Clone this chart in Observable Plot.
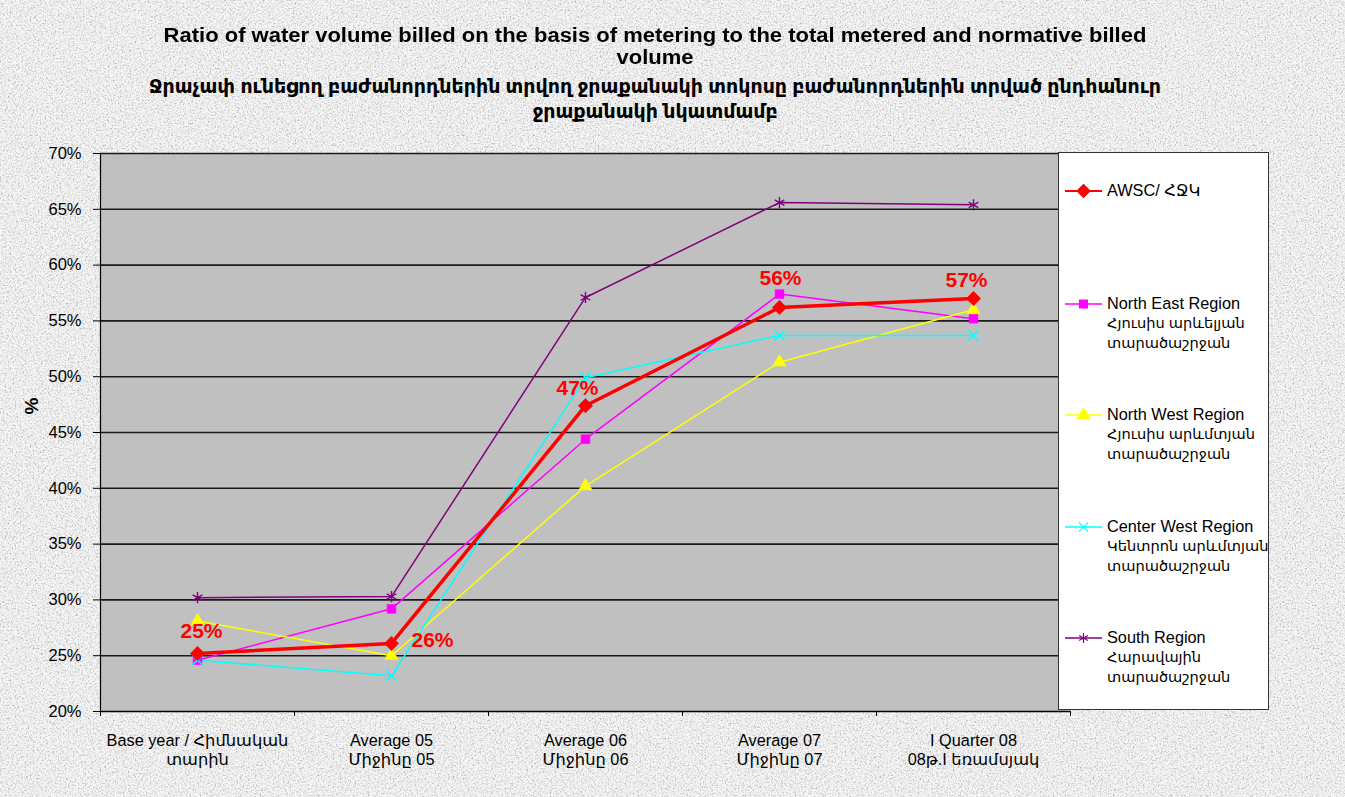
<!DOCTYPE html>
<html>
<head>
<meta charset="utf-8">
<script src="https://cdn.jsdelivr.net/npm/d3@7"></script>
<script src="https://cdn.jsdelivr.net/npm/@observablehq/plot@0.6"></script>
<style>
  html, body { margin: 0; padding: 0; }
  body { width: 1345px; height: 797px; overflow: hidden; position: relative; background: #ececec;
         font-family: "Liberation Sans", Arial, "DejaVu Sans", sans-serif; }
  #bg { position: absolute; left: 0; top: 0; }
  #title { position: absolute; left: 105px; width: 1100px; top: 24px; text-align: center;
           font-weight: bold; color: #000; }
  #title .en { font-size: 20px; line-height: 22px; transform: scaleX(1.1); }
  #title .hy { font-size: 19px; line-height: 25px; margin-top: 6px; }
  #chart { position: absolute; left: 0; top: 140px; }
  #legend { position: absolute; left: 1058px; top: 152px; width: 211px; height: 558px;
            background: #fff; border: 1px solid #333; box-sizing: border-box; }
  .item { position: absolute; left: 6px; line-height: 19px; color: #000; }
  .item svg { position: absolute; left: 0; top: 2px; }
  .item .txt { position: absolute; left: 42px; top: 0; white-space: nowrap; }
  .item .en { font-size: 16.3px; }
  .item .hy { font-size: 14.6px; }
</style>
</head>
<body>
<svg id="bg" width="1345" height="797">
  <filter id="noise" x="0" y="0" width="100%" height="100%" color-interpolation-filters="sRGB">
    <feTurbulence type="fractalNoise" baseFrequency="0.6" numOctaves="3" seed="7"/>
    <feColorMatrix type="matrix" values="0.33 0.33 0.33 0 0  0.33 0.33 0.33 0 0  0.33 0.33 0.33 0 0  0 0 0 0 1"/>
    <feComponentTransfer>
      <feFuncR type="linear" slope="3.2" intercept="-0.7"/>
      <feFuncG type="linear" slope="3.2" intercept="-0.7"/>
      <feFuncB type="linear" slope="3.2" intercept="-0.7"/>
    </feComponentTransfer>
  </filter>
  <rect width="1345" height="797" fill="#f3f3f3"/>
  <rect width="1345" height="797" filter="url(#noise)" opacity="0.3"/>
</svg>
<div id="title">
  <div class="en">Ratio of water volume billed on the basis of metering to the total metered and normative billed<br>volume</div>
  <div class="hy">Ջրաչափ ունեցող բաժանորդներին տրվող ջրաքանակի տոկոսը բաժանորդներին տրված ընդհանուր<br>ջրաքանակի նկատմամբ</div>
</div>
<div id="chart"></div>
<div id="legend"></div>
<script>
// ---- data ----
const categories = [
  "Base year / Հիմնական\nտարին",
  "Average 05\nՄիջինը 05",
  "Average 06\nՄիջինը 06",
  "Average 07\nՄիջինը 07",
  "I Quarter 08\n08թ.I եռամսյակ"
];
const seriesNames = [
  "AWSC/ ՀՋԿ",
  "North East Region\nՀյուսիս արևելյան\nտարածաշրջան",
  "North West Region\nՀյուսիս արևմտյան\nտարածաշրջան",
  "Center West Region\nԿենտրոն արևմտյան\nտարածաշրջան",
  "South Region\nՀարավային\nտարածաշրջան"
];
const awsc       = [25.2, 26.1, 47.4, 56.2, 57.0];
const northEast  = [24.6, 29.2, 44.4, 57.4, 55.2];
const northWest  = [28.1, 25.0, 40.2, 51.3, 56.0];
const centerWest = [24.6, 23.2, 49.9, 53.7, 53.7];
const south      = [30.2, 30.3, 57.1, 65.6, 65.4];
const yTicks = [20, 25, 30, 35, 40, 45, 50, 55, 60, 65, 70];

// ---- styles (not data) ----
const styles = [
  {color: "#ff0000", width: 3.5, symbol: "diamond2", r: 6.5, fill: true},
  {color: "#ff00ff", width: 1.5, symbol: "square", r: 5, fill: true},
  {color: "#ffff00", width: 1.5, symbol: "triangle", r: 5, fill: true},
  {color: "#00ffff", width: 1.5, symbol: "times", r: 4.8, fill: false},
  {color: "#800080", width: 1.5, symbol: "asterisk", r: 5.3, fill: false}
];
const labelOffsets = [[4, -22], [41, -3], [-8, -17], [1, -29], [-7, -18]];

const allSeries = [awsc, northEast, northWest, centerWest, south];
const rows = allSeries.map((vals, s) => vals.map((v, i) => ({s, i, x: i + 0.5, y: v})));

// draw order: thin lines first, AWSC on top
const order = [4, 1, 2, 3, 0];
const marks = [
  Plot.frame({fill: "#c0c0c0", stroke: null}),
  Plot.ruleY(yTicks.slice(1), {stroke: "#1a1a1a", strokeWidth: 1.6}),
  Plot.axisY({ticks: yTicks, tickFormat: d => d + "%", tickSize: 7, tickPadding: 12,
              fontSize: 16.5, fill: "#000", label: null}),
  Plot.axisX({ticks: d3.range(6), tickFormat: () => "", tickSize: 5, label: null}),
  Plot.ruleX([0], {stroke: "#000", strokeWidth: 1.2}),
  Plot.ruleY([20], {stroke: "#000", strokeWidth: 1.5}),
  Plot.text(categories, {x: (d, i) => i + 0.5, y: () => 20, text: d => d, lineAnchor: "top",
                         dy: 21, fontSize: 16.3, lineHeight: 1.17, fill: "#000"})
];
for (const s of order) {
  const st = styles[s];
  marks.push(Plot.line(rows[s], {x: "x", y: "y", stroke: st.color, strokeWidth: st.width}));
}
for (const s of order) {
  const st = styles[s];
  marks.push(Plot.dot(rows[s], {x: "x", y: "y", symbol: () => st.symbol, r: st.r,
    fill: st.fill ? st.color : "none", stroke: st.color, strokeWidth: st.fill ? 0.5 : 1.4}));
}
rows[0].forEach((d, k) => {
  marks.push(Plot.text([d], {x: "x", y: "y", text: r => Math.round(r.y) + "%",
    dx: labelOffsets[k][0], dy: labelOffsets[k][1], fill: "#ff0000", fontWeight: "bold", fontSize: 21}));
});

const chart = Plot.plot({
  width: 1345, height: 657,
  marginLeft: 100, marginRight: 275, marginTop: 13, marginBottom: 86,
  x: {type: "linear", domain: [0, 5], axis: null},
  y: {type: "linear", domain: [20, 70], axis: null},
  symbol: {type: "identity"},
  style: {background: "transparent", fontFamily: "'Liberation Sans', Arial, 'DejaVu Sans', sans-serif", overflow: "visible"},
  marks
});
// y-axis label
const ns = "http://www.w3.org/2000/svg";
const ylab = document.createElementNS(ns, "text");
ylab.setAttribute("transform", "translate(38,266) rotate(-90)");
ylab.setAttribute("text-anchor", "middle");
ylab.setAttribute("font-weight", "bold");
ylab.setAttribute("font-size", "19");
ylab.textContent = "%";
chart.appendChild(ylab);
document.getElementById("chart").appendChild(chart);

// ---- legend ----
const legend = document.getElementById("legend");
const legendTops = [28, 141, 252, 364, 475];
const symMap = {diamond2: "symbolDiamond2", square: "symbolSquare", triangle: "symbolTriangle",
                times: "symbolTimes", asterisk: "symbolAsterisk"};
seriesNames.forEach((name, s) => {
  const st = styles[s];
  const item = document.createElement("div");
  item.className = "item";
  item.style.top = legendTops[s] + "px";
  const sym = d3.symbol(d3[symMap[st.symbol]], Math.PI * st.r * st.r * 0.8)();
  const lines = name.split("\n").map((t, j) => `<span class="${j === 0 ? "en" : "hy"}">${t}</span>`).join("<br>");
  item.innerHTML = `<svg width="40" height="16"><line x1="0" x2="37" y1="8" y2="8" stroke="${st.color}" stroke-width="${Math.min(st.width, 2)}"/>
    <path transform="translate(18.5,8)" d="${sym}" fill="${st.fill ? st.color : "none"}" stroke="${st.color}" stroke-width="1.2"/></svg>
    <div class="txt">${lines}</div>`;
  legend.appendChild(item);
});
</script>
</body>
</html>
